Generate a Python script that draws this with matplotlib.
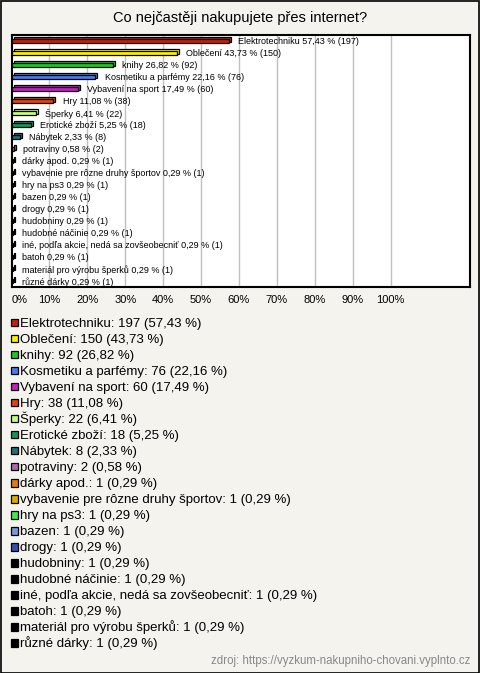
import matplotlib
matplotlib.use("Agg")
import matplotlib.pyplot as plt
from matplotlib.patches import Rectangle

plt.rcParams['font.family'] = ['Liberation Sans', 'DejaVu Sans']

title = "Co nejčastěji nakupujete přes internet?"
source = "zdroj: https://vyzkum-nakupniho-chovani.vyplnto.cz"

names = ["Elektrotechniku", "Oblečení", "knihy", "Kosmetiku a parfémy",
         "Vybavení na sport", "Hry", "Šperky", "Erotické zboží", "Nábytek",
         "potraviny", "dárky apod.", "vybavenie pre rôzne druhy športov",
         "hry na ps3", "bazen", "drogy", "hudobniny", "hudobné náčinie",
         "iné, podľa akcie, nedá sa zovšeobecniť", "batoh",
         "materiál pro výrobu šperků", "různé dárky"]
counts = [197, 150, 92, 76, 60, 38, 22, 18, 8, 2,
          1, 1, 1, 1, 1, 1, 1, 1, 1, 1, 1]
percents = [57.43, 43.73, 26.82, 22.16, 17.49, 11.08, 6.41, 5.25, 2.33, 0.58,
            0.29, 0.29, 0.29, 0.29, 0.29, 0.29, 0.29, 0.29, 0.29, 0.29, 0.29]
colors = ['#c81e0a', '#ffee00', '#1ec81e', '#4a78ee', '#c81ec8', '#e8400f',
          '#c8ff78', '#12965a', '#1e7080', '#b464b4', '#e87814', '#dcaa00',
          '#46e646', '#7898dc', '#3250b4', '#000000', '#000000', '#000000',
          '#000000', '#000000', '#000000']
xticks = [0, 10, 20, 30, 40, 50, 60, 70, 80, 90, 100]
xticklabels = ["0%", "10%", "20%", "30%", "40%", "50%", "60%", "70%", "80%", "90%", "100%"]

W, H = 480, 673
bg = '#f4f3ee'
fig = plt.figure(figsize=(W / 100, H / 100), dpi=100, facecolor=bg)

# figure border
fig.patches.append(Rectangle((0.5 / W, 0.5 / H), 1 - 1.5 / W, 1 - 1.5 / H,
                             transform=fig.transFigure, fill=False,
                             edgecolor='black', lw=1.2))

fig.text(0.5, 1 - 18 / H, title, ha='center', va='center', fontsize=10.5)

ax_l, ax_r, ax_t, ax_b = 11.5, 470, 35, 287
ax = fig.add_axes([ax_l / W, 1 - ax_b / H, (ax_r - ax_l) / W, (ax_b - ax_t) / H])
ax.set_facecolor('white')
n = len(names)
px_per_pct = 37.9 / 10
xmax = (ax_r - ax_l) / px_per_pct
ax.set_xlim(0, xmax)
ax.set_ylim(n - 0.5, -0.5)
for x in xticks[1:]:
    ax.axvline(x, color='#c0c0c0', lw=1, zorder=0)

dx = 2 / px_per_pct
dy = 1.6 / 12
for i, (p, c) in enumerate(zip(percents, colors)):
    ax.barh(i - dy, p, left=dx, height=0.4, color=c, edgecolor='black', lw=0.9, zorder=2)
    ax.barh(i, p, left=0, height=0.4, color=c, edgecolor='black', lw=0.9, zorder=3)
    lbl = f"{names[i]} " + f"{p:.2f}".replace('.', ',') + f" % ({counts[i]})"
    ax.annotate(lbl, (p, i), xytext=(6.5, -0.5), textcoords='offset points',
                va='center', ha='left', fontsize=6.5, zorder=4)

ax.set_xticks(xticks)
ax.set_xticklabels(xticklabels, fontsize=8)
ax.get_xticklabels()[0].set_horizontalalignment('left')
ax.set_yticks([])
ax.tick_params(axis='x', length=0, pad=6)
for s in ax.spines.values():
    s.set_linewidth(1.5)
    s.set_color('black')

# legend
yb0 = 326.7
step = 16.03
for i in range(n):
    yb = yb0 + i * step
    fig.patches.append(Rectangle((10.5 / W, 1 - (yb - 0.5) / H), 7 / W, 7.5 / H,
                                 transform=fig.transFigure, facecolor=colors[i],
                                 edgecolor='black', lw=0.9))
    txt = f"{names[i]}: {counts[i]} (" + f"{percents[i]:.2f}".replace('.', ',') + " %)"
    fig.text(20.5 / W, 1 - yb / H, txt, ha='left', va='baseline', fontsize=9.5)

fig.text(470 / W, 1 - 661 / H, source, ha='right', va='center', fontsize=8.3, color='#888888')

fig.savefig('out.png', dpi=100, facecolor=bg)
